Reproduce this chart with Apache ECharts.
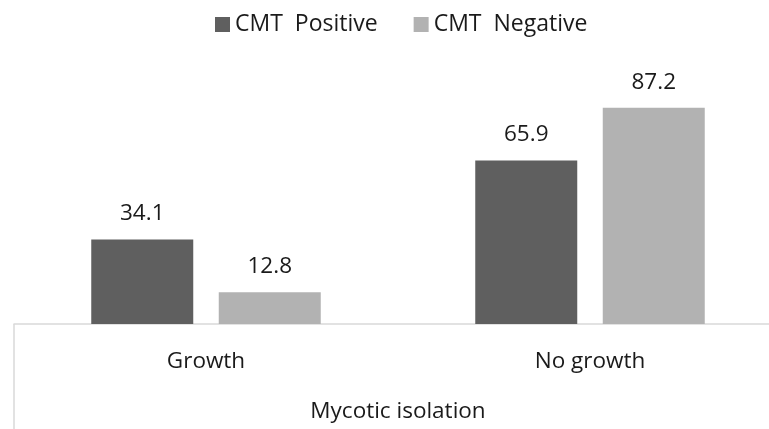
<!DOCTYPE html>
<html>
<head>
<meta charset="utf-8">
<script src="https://cdn.jsdelivr.net/npm/echarts@6/dist/echarts.min.js"></script>
<style>
  html, body { margin: 0; padding: 0; background: #fff; overflow: hidden; }
  #main { width: 769px; height: 429px; }
</style>
</head>
<body>
<div id="main"></div>
<script>
const categories = ['Growth', 'No growth'];
const seriesNames = ['CMT  Positive', 'CMT  Negative'];
const positiveValues = [34.1, 65.9];
const negativeValues = [12.8, 87.2];
const axisTitle = 'Mycotic isolation';

const font = "'Open Sans', 'Noto Sans', sans-serif";
const textColor = '#1a1a1a';

let myChart = echarts.init(document.getElementById('main'));
let option = {
  backgroundColor: '#fff',
  animation: false,
  textStyle: { fontFamily: font },
  legend: {
    top: 8,
    left: 210,
    itemWidth: 15,
    itemHeight: 15,
    itemGap: 36,
    icon: 'rect',
    textStyle: { fontSize: 23, color: textColor, fontFamily: font },
    data: seriesNames
  },
  // plot area runs past the right edge of the picture, as in the source
  grid: {
    left: 14,
    width: 768,
    top: 76,
    bottom: 105,
    outerBoundsMode: 'none'
  },
  xAxis: {
    type: 'category',
    data: categories,
    name: axisTitle,
    nameLocation: 'middle',
    nameGap: 76,
    nameTextStyle: { fontSize: 22.5, color: textColor, fontFamily: font },
    axisLine: { lineStyle: { color: '#d9d9d9', width: 1.5 } },
    axisTick: {
      show: true,
      length: 110,
      interval: function (index) { return index === 0; },
      lineStyle: { color: '#d9d9d9', width: 1.5 }
    },
    axisLabel: {
      margin: 26,
      fontSize: 22.5,
      color: textColor,
      fontFamily: font
    }
  },
  yAxis: {
    type: 'value',
    min: 0,
    max: 100,
    show: false
  },
  series: [{
    name: seriesNames[0],
    type: 'bar',
    data: positiveValues,
    barWidth: 102,
    barGap: '25%',
    itemStyle: { color: '#5f5f5f' },
    label: {
      show: true,
      position: 'top',
      distance: 14,
      fontSize: 22.5,
      color: textColor,
      fontFamily: font
    }
  }, {
    name: seriesNames[1],
    type: 'bar',
    data: negativeValues,
    barWidth: 102,
    itemStyle: { color: '#b2b2b2' },
    label: {
      show: true,
      position: 'top',
      distance: 14,
      fontSize: 22.5,
      color: textColor,
      fontFamily: font
    }
  }]
};
myChart.setOption(option);
</script>
</body>
</html>
